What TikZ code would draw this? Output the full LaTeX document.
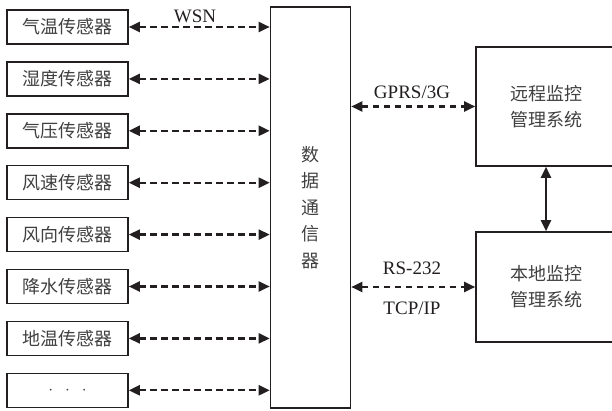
\documentclass[tikz,border=0pt]{standalone}
\usepackage{fontspec}
\setmainfont{Liberation Serif}
\newfontfamily\cjk{Noto Sans CJK SC}
\usetikzlibrary{arrows.meta}

\definecolor{ink}{HTML}{231F20}

\begin{document}
\begin{tikzpicture}[x=1pt,y=-1pt,
  every node/.style={inner sep=0},
  box/.style={draw=ink,line width=1.6pt,font=\cjk\fontsize{18}{18}\selectfont,text=black!75},
  sensor/.style={box,minimum width=121pt,minimum height=34pt},
  link/.style={ink,line width=2.2pt,dash pattern=on 6.5pt off 4.5pt,
    {Triangle[length=11pt,width=10pt]}-{Triangle[length=11pt,width=10pt]}},
  lbl/.style={font=\fontsize{19}{19}\selectfont,text=ink}]
\useasboundingbox (0,0) rectangle (612,411);
\clip (0,0) rectangle (612,411);

% sensors
\foreach \name/\txt [count=\i] in {s1/气温传感器,s2/湿度传感器,s3/气压传感器,s4/风速传感器,
    s5/风向传感器,s6/降水传感器,s7/地温传感器,s8/{$\cdot\ \ \cdot\ \ \cdot$}}
  \node[sensor] (\name) at (67.5,{27+51.9*(\i-1)}) {\txt};

% data unit
\node[box,minimum width=80pt,minimum height=401pt,align=center,
  font=\cjk\fontsize{18}{26.5}\selectfont] (data) at (310.5,207.5)
  {数\\据\\通\\信\\器};

\node[box,minimum width=140pt,minimum height=119pt,align=center,
  font=\cjk\fontsize{18}{26}\selectfont] (rem) at (546,106.5)
  {远程监控\\管理系统};
\node[box,minimum width=140pt,minimum height=110pt,align=center,
  font=\cjk\fontsize{18}{26}\selectfont] (loc) at (546,287)
  {本地监控\\管理系统};

\foreach \name in {s1,s2,s3,s4,s5,s6,s7,s8}
  \draw[link] (\name.east) -- (\name.east -| data.west);

\draw[link] (data.east |- rem.west) -- (rem.west);
\draw[link] (data.east |- loc.west) -- (loc.west);
\draw[ink,line width=2.2pt,{Triangle[length=11pt,width=10pt]}-{Triangle[length=11pt,width=10pt]}]
  (rem.south) -- (loc.north);

\node[lbl] (wsn) at (195,16) {WSN};
\node[lbl] (gprs) at (412,92) {GPRS/3G};
\node[lbl] (rs) at (412,268) {RS-232};
\node[lbl] (tcp) at (412,308) {TCP/IP};
\end{tikzpicture}
\end{document}
